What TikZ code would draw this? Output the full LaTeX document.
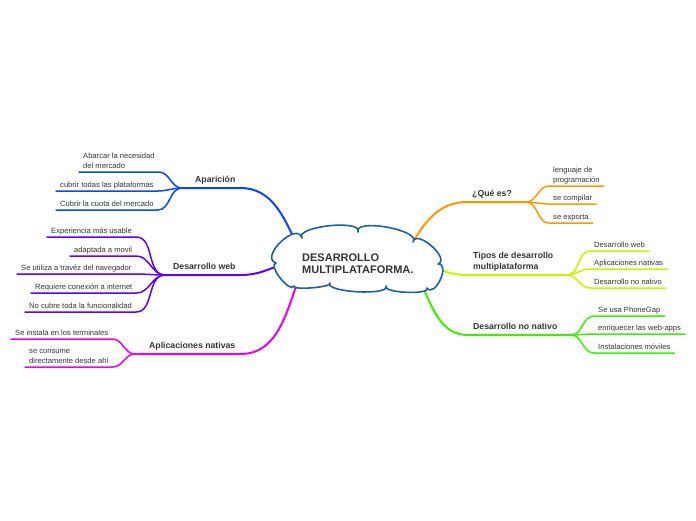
\documentclass[tikz,border=0pt]{standalone}
\usepackage{fontspec}
\setmainfont{Liberation Sans}
\usetikzlibrary{calc}
\definecolor{txt}{RGB}{51,51,51}
\definecolor{cloudc}{RGB}{30,95,160}
\definecolor{cA}{RGB}{10,70,255}
\definecolor{cW}{RGB}{95,0,240}
\definecolor{cN}{RGB}{238,0,238}
\definecolor{cQ}{RGB}{255,153,0}
\definecolor{cT}{RGB}{204,240,0}
\definecolor{cD}{RGB}{60,240,0}
\begin{document}
\begin{tikzpicture}[x=1pt,y=1pt,
  leafnode/.style={anchor=south west, inner xsep=4pt, inner ysep=1.8pt, text depth=2pt,
    font=\fontsize{7.6}{9.2}\selectfont, text=txt, align=left},
  mainlab/.style={anchor=south west, inner xsep=5pt, inner ysep=3.3pt, text depth=2.2pt,
    font=\fontsize{8.7}{11}\selectfont\bfseries, text=txt, align=left},
  mline/.style={line width=2pt, line cap=round},
  cline/.style={line width=1.5pt, line cap=round},
  cloudlobe/.style={to path={.. controls ($(\tikztostart)!#1!118:(\tikztotarget)$)
     and ($(\tikztotarget)!#1!-118:(\tikztostart)$) .. (\tikztotarget)}}]
\useasboundingbox (0,0) rectangle (696,-520);

% cloud notch points
\coordinate (P1) at (302,-238);
\coordinate (P2) at (358,-232);
\coordinate (P3) at (413,-242);
\coordinate (P4) at (438,-264);
\coordinate (P5) at (427,-288);
\coordinate (P6) at (386,-286);
\coordinate (P7) at (330,-283);
\coordinate (P8) at (294,-286);
\coordinate (P9) at (276,-263);
% attach points (under the cloud)
\coordinate (aA) at (297,-245);
\coordinate (aW) at (283,-264);
\coordinate (aN) at (298,-281);
\coordinate (aQ) at (410,-247);
\coordinate (aT) at (432,-266);
\coordinate (aD) at (421,-283);

% main labels
\node[mainlab] (A) at (190,-188) {Aparición};
\node[mainlab] (W) at (168,-275) {Desarrollo web};
\node[mainlab] (N) at (144,-354) {Aplicaciones nativas};
\node[mainlab] (Q) at (467,-202) {¿Qué es?};
\node[mainlab] (T) at (468,-275) {Tipos de desarrollo\\multiplataforma};
\node[mainlab] (D) at (468,-335) {Desarrollo no nativo};

% hubs
\coordinate (hA) at (182,-188);
\coordinate (hW) at (165,-275);
\coordinate (hN) at (135,-354);
\coordinate (hQ) at (526,-202);
\coordinate (hT) at (567,-275);
\coordinate (hD) at (571,-335);

% leaves
\node[leafnode] (a1) at (79,-172) {Abarcar la necesidad\\del mercado};
\node[leafnode] (a2) at (56,-191) {cubrir todas las plataformas};
\node[leafnode] (a3) at (56,-210) {Cubrir la cuota del mercado};
\node[leafnode] (w1) at (47,-237) {Experiencia más usable};
\node[leafnode] (w2) at (70,-256) {adaptada a movil};
\node[leafnode] (w3) at (17,-274) {Se utiliza a travéz del navegador};
\node[leafnode] (w4) at (31,-293) {Requiere conexión a internet};
\node[leafnode] (w5) at (25,-312) {No cubre toda la funcionalidad};
\node[leafnode] (n1) at (11,-339) {Se instala en los terminales};
\node[leafnode] (n2) at (25,-367) {se consume\\directamente desde ahí};
\node[leafnode] (q1) at (549,-186) {lenguaje de\\programación};
\node[leafnode] (q2) at (549,-204) {se compilar};
\node[leafnode] (q3) at (549,-223) {se exporta};
\node[leafnode] (t1) at (590,-251) {Desarrollo web};
\node[leafnode] (t2) at (590,-269) {Aplicaciones nativas};
\node[leafnode] (t3) at (590,-288) {Desarrollo no nativo};
\node[leafnode] (d1) at (594,-316) {Se usa PhoneGap};
\node[leafnode] (d2) at (594,-334) {enriquecer las web-apps};
\node[leafnode] (d3) at (594,-353) {Instalaciones móviles};

% main connectors (drawn under the cloud)
\draw[mline, cA] (aA) to[out=115, in=0] (A.south east) -- (hA);
\draw[mline, cW] (aW) to[out=200, in=0] (W.south east) -- (hW);
\draw[mline, cN] (aN) to[out=250, in=0] (N.south east) -- (hN);
\draw[mline, cQ] (aQ) to[out=60, in=180] (Q.south west) -- (hQ);
\draw[mline, cT] (aT) to[out=-25, in=180] (T.south west) -- (hT);
\draw[mline, cD] (aD) to[out=-65, in=180] (D.south west) -- (hD);

% central cloud
\draw[cloudc, line width=1.6pt, fill=white, line join=round]
  (P1) to[cloudlobe=14pt] (P2) to[cloudlobe=15pt] (P3) to[cloudlobe=14pt] (P4)
  to[cloudlobe=13pt] (P5) to[cloudlobe=8pt] (P6) to[cloudlobe=11pt] (P7)
  to[cloudlobe=5pt] (P8) to[cloudlobe=9pt] (P9) to[cloudlobe=18pt] (P1) -- cycle;
\node[font=\fontsize{11}{11.5}\selectfont\bfseries, text=txt, align=left, anchor=west,
  inner sep=0pt] (ct) at (302,-263.5) {DESARROLLO\\MULTIPLATAFORMA.};

% leaf connectors left
\foreach \n in {a1,a2,a3}
  \draw[cline, cA] (hA) to[out=180, in=0] (\n.south east) -- (\n.south west);
\foreach \n in {w1,w2,w3,w4,w5}
  \draw[cline, cW] (hW) to[out=180, in=0] (\n.south east) -- (\n.south west);
\foreach \n in {n1,n2}
  \draw[cline, cN] (hN) to[out=180, in=0] (\n.south east) -- (\n.south west);
% leaf connectors right
\foreach \n in {q1,q2,q3}
  \draw[cline, cQ] (hQ) to[out=0, in=180] (\n.south west) -- (\n.south east);
\foreach \n in {t1,t2,t3}
  \draw[cline, cT] (hT) to[out=0, in=180] (\n.south west) -- (\n.south east);
\foreach \n in {d1,d2,d3}
  \draw[cline, cD] (hD) to[out=0, in=180] (\n.south west) -- (\n.south east);
\end{tikzpicture}
\end{document}
